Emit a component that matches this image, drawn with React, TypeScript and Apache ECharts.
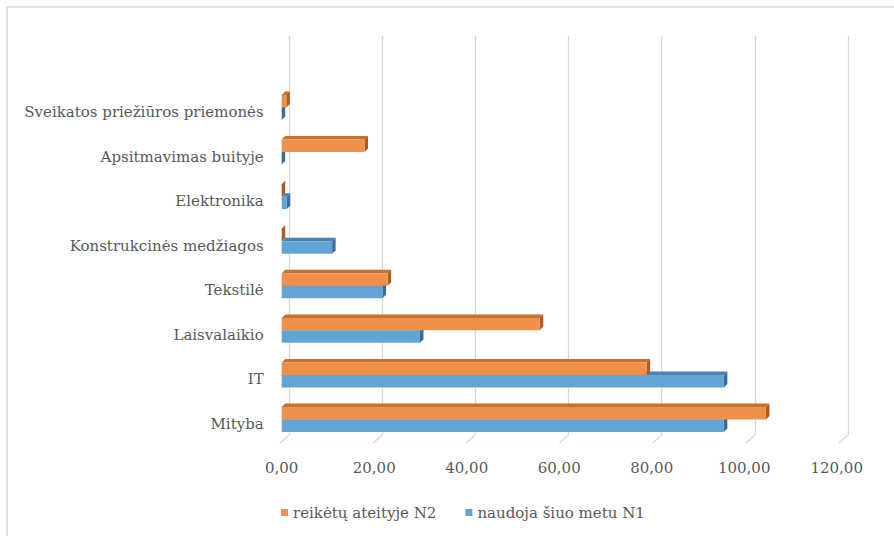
import React, { useEffect, useRef } from "react";
import * as echarts from "echarts";

// Categories, bottom to top as drawn on the category axis
const categories = [
  "Mityba",
  "IT",
  "Laisvalaikio",
  "Tekstilė",
  "Konstrukcinės medžiagos",
  "Elektronika",
  "Apsitmavimas buityje",
  "Sveikatos priežiūros priemonės",
];
// naudoja šiuo metu N1 (blue)
const n1Values = [95.6, 95.6, 29.9, 21.8, 10.9, 1.1, 0, 0];
// reikėtų ateityje N2 (orange)
const n2Values = [104.7, 78.9, 55.8, 22.9, 0, 0, 17.9, 1.0];
const axisTicks = [0, 20, 40, 60, 80, 100, 120];
const nameN2 = "reikėtų ateityje N2";
const nameN1 = "naudoja šiuo metu N1";

const FONT = "DejaVu Serif";
const TEXT = "#595959";
const GRID = "#D9D9D9";

const ORANGE = { front: "#EF8F49", top: "#C7702F", side: "#A95D22" };
const BLUE = { front: "#63A4D6", top: "#4C82B3", side: "#3B6D9B" };

function bar3D(name: string, values: number[], upper: boolean, colors: any) {
  return {
    type: "custom",
    name,
    xAxisIndex: 1,
    yAxisIndex: 1,
    itemStyle: { color: colors.front },
    data: values.map((v, i) => [v, i]),
    renderItem: (_params: any, api: any) => {
      const v = api.value(0);
      const c = api.value(1);
      const p0 = api.coord([0, c]);
      const p1 = api.coord([v, c]);
      const band = api.size([0, 1])[1];
      const h = band * 0.28;
      const d = 3.5;
      const lift = 4.5;
      const yTop = upper ? p0[1] - lift - h : p0[1] - lift;
      const yBot = yTop + h;
      const x0 = p0[0];
      const x1 = p1[0];
      return {
        type: "group",
        children: [
          {
            type: "polygon",
            shape: { points: [[x0, yTop], [x0 + d, yTop - d], [x1 + d, yTop - d], [x1, yTop]] },
            style: { fill: colors.top },
          },
          {
            type: "polygon",
            shape: { points: [[x1, yTop], [x1 + d, yTop - d], [x1 + d, yBot - d], [x1, yBot]] },
            style: { fill: colors.side },
          },
          {
            type: "rect",
            shape: { x: x0, y: yTop, width: Math.max(0, x1 - x0), height: h },
            style: { fill: colors.front },
          },
        ],
      };
    },
  };
}

export default function App() {
  const ref = useRef<HTMLDivElement>(null);
  useEffect(() => {
    if (!ref.current) return;
    const chart = echarts.init(ref.current, undefined, { renderer: "svg" });
    const fmt = (v: number) => v.toFixed(2).replace(".", ",");
    chart.setOption({
      animation: false,
      backgroundColor: "#ffffff",
      graphic: [
        {
          type: "rect",
          shape: { x: 7, y: 7, width: 920, height: 600 },
          style: { fill: "none", stroke: GRID, lineWidth: 1.5 },
          z: -10,
        },
      ],
      legend: {
        left: 281,
        top: 505,
        padding: 0,
        itemWidth: 7,
        itemHeight: 7,
        itemGap: 29,
        icon: "rect",
        textStyle: { fontFamily: FONT, fontSize: 15, color: TEXT },
        data: [nameN2, nameN1],
      },
      grid: [
        { left: 289, right: 46, top: 36, bottom: 101 },
        { left: 281.7, right: 57.3, top: 89.7, bottom: 89.7 },
      ],
      xAxis: [
        {
          gridIndex: 0,
          type: "value",
          min: 0,
          max: 120,
          interval: 20,
          axisLabel: { show: false },
          axisLine: { show: false },
          axisTick: { show: false },
          splitLine: { lineStyle: { color: GRID, width: 1.3 } },
        },
        {
          gridIndex: 1,
          type: "value",
          min: 0,
          max: 120,
          interval: 20,
          axisLine: { show: false },
          axisTick: { show: false },
          splitLine: { show: false },
          axisLabel: {
            formatter: fmt,
            fontFamily: FONT,
            fontSize: 15,
            color: TEXT,
            margin: 14,
          },
        },
      ],
      yAxis: [
        { gridIndex: 0, type: "value", min: 0, max: 1, show: false },
        {
          gridIndex: 1,
          type: "category",
          data: categories,
          axisLine: { show: false },
          axisTick: { show: false },
          axisLabel: { fontFamily: FONT, fontSize: 15, color: TEXT, margin: 18 },
        },
      ],
      series: [
        {
          type: "custom",
          name: "floor",
          xAxisIndex: 0,
          yAxisIndex: 0,
          silent: true,
          data: axisTicks.map((t) => [t, 0]),
          renderItem: (_p: any, api: any) => {
            const p = api.coord([api.value(0), 0]);
            return {
              type: "line",
              shape: { x1: p[0], y1: p[1], x2: p[0] - 9, y2: p[1] + 8 },
              style: { stroke: GRID, lineWidth: 1.3 },
            };
          },
        },
        bar3D(nameN1, n1Values, false, BLUE),
        bar3D(nameN2, n2Values, true, ORANGE),
      ],
    });
    return () => chart.dispose();
  }, []);
  return (
    <div
      ref={ref}
      style={{ position: "absolute", left: 0, top: 0, width: 894, height: 536 }}
    />
  );
}
